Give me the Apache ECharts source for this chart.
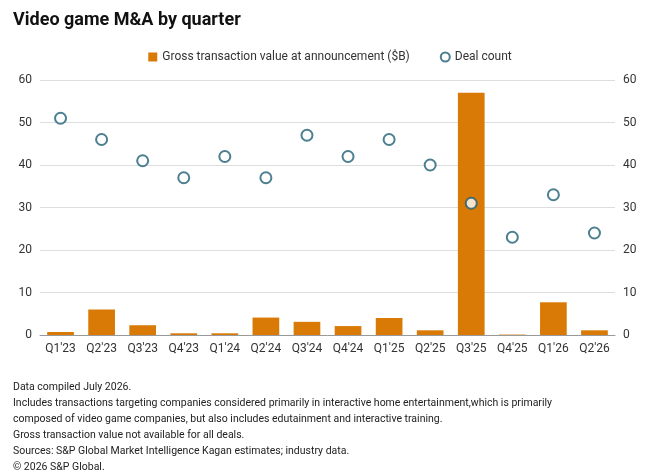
<!DOCTYPE html>
<html><head><meta charset="utf-8">
<script src="https://cdn.jsdelivr.net/npm/echarts@6/dist/echarts.min.js"></script>
<style>body{margin:0;background:#fff}#c{width:660px;height:471px}</style>
</head><body><div id="c"></div>
<script>
const categories=["Q1'23","Q2'23","Q3'23","Q4'23","Q1'24","Q2'24","Q3'24","Q4'24","Q1'25","Q2'25","Q3'25","Q4'25","Q1'26","Q2'26"];
const grossValue=[0.7,6,2.3,0.4,0.4,4.1,3.1,2.1,4,1.1,57,0.1,7.7,1.1];
const dealCount=[51,46,41,37,42,37,47,42,46,40,31,23,33,24];
const notes=["Data compiled July 2026.","Includes transactions targeting companies considered primarily in interactive home entertainment,which is primarily","composed of video game companies, but also includes edutainment and interactive training.","Gross transaction value not available for all deals.","Sources: S&P Global Market Intelligence Kagan estimates; industry data.","© 2026 S&P Global."];
const ch=echarts.init(document.getElementById('c'));
const ax={type:'value',min:0,max:60,interval:10,axisLine:{show:false},axisTick:{show:false},axisLabel:{color:'#333',fontSize:12,fontFamily:'Roboto'}};
ch.setOption({
animation:false,
textStyle:{fontFamily:'Roboto'},
title:[{text:'Video game M&A by quarter',left:8,top:6,textStyle:{fontSize:18,fontWeight:'bold',color:'#111'}},
 {text:notes.join('\n'),left:8,top:374,textStyle:{fontSize:10.5,color:'#222',fontWeight:'normal',lineHeight:16}}],
legend:{top:46,left:'center',itemGap:30,textStyle:{fontSize:12,color:'#333'},data:[{name:'Gross transaction value at announcement ($B)',icon:'rect'},{name:'Deal count',icon:'circle'}],itemWidth:9,itemHeight:9},
grid:{left:40,right:45,top:80,bottom:136},
xAxis:{type:'category',data:categories,axisLine:{lineStyle:{color:'#999'}},axisTick:{show:false},axisLabel:{color:'#333',fontSize:12}},
yAxis:[Object.assign({splitLine:{lineStyle:{color:'#ddd'}}},ax),Object.assign({splitLine:{show:false}},ax)],
series:[
{name:'Gross transaction value at announcement ($B)',type:'bar',data:grossValue,barWidth:'65%',itemStyle:{color:'#d97a06'}},
{name:'Deal count',type:'scatter',yAxisIndex:1,data:dealCount,symbol:'circle',symbolSize:11,itemStyle:{color:'#fff',borderColor:'#1f5f74',borderWidth:2}}
]});
</script></body></html>
